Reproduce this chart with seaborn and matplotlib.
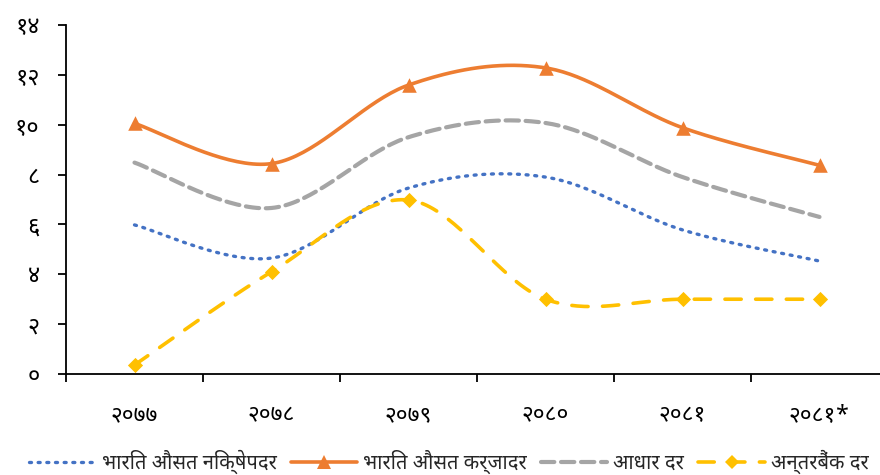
import numpy as np
import pandas as pd
import matplotlib
matplotlib.use("Agg")
import matplotlib.pyplot as plt
from matplotlib import font_manager
from matplotlib.ft2font import FT2Font
from matplotlib.lines import Line2D
import seaborn as sns

# Fiscal years (Bikram Sambat) and rates in percent
years = ["२०७७", "२०७८", "२०७९", "२०८०", "२०८१", "२०८१*"]
deposit_rate = [5.98, 4.65, 7.46, 7.90, 5.78, 4.53]     # भारित औसत निक्षेपदर
lending_rate = [10.05, 8.44, 11.59, 12.28, 9.88, 8.37]  # भारित औसत कर्जादर
base_rate = [8.48, 6.66, 9.50, 10.07, 7.90, 6.30]       # आधार दर
interbank_rate = [0.36, 4.10, 6.98, 3.00, 3.00, 3.00]   # अन्तरबैंक दर

series_names = ["भारित औसत निक्षेपदर", "भारित औसत कर्जादर", "आधार दर", "अन्तरबैंक दर"]
y_ticks = [0, 2, 4, 6, 8, 10, 12, 14]
y_tick_labels = ["०", "२", "४", "६", "८", "१०", "१२", "१४"]


def devanagari_family(preferred=("Noto Sans Devanagari", "Mukta", "Noto Sans Devanagari UI", "Yantramanav")):
    """Pick an installed family that covers Devanagari letters and digits."""
    found = []
    for entry in font_manager.fontManager.ttflist:
        try:
            cmap = FT2Font(entry.fname).get_charmap()
        except Exception:
            continue
        if 0x092D in cmap and 0x0967 in cmap:
            found.append(entry.name)
    for name in preferred:
        if name in found:
            return name
    return found[0] if found else None


sns.set_theme(style="white")
deva = devanagari_family()
plt.rcParams["font.family"] = ([deva] if deva else []) + ["DejaVu Sans"]
plt.rcParams["font.weight"] = "light"


def smooth_curve(values, steps=40):
    """Cubic Bezier smoothing through every point (Catmull-Rom style)."""
    pts = np.array(values, dtype=float)
    n = len(pts)
    xs = np.arange(n, dtype=float)
    out_x, out_y = [], []
    t = np.linspace(0, 1, steps)
    for i in range(n - 1):
        p0x, p0y = xs[max(i - 1, 0)], pts[max(i - 1, 0)]
        p1x, p1y = xs[i], pts[i]
        p2x, p2y = xs[i + 1], pts[i + 1]
        p3x, p3y = xs[min(i + 2, n - 1)], pts[min(i + 2, n - 1)]
        c1x, c1y = p1x + (p2x - p0x) / 6, p1y + (p2y - p0y) / 6
        c2x, c2y = p2x - (p3x - p1x) / 6, p2y - (p3y - p1y) / 6
        bx = ((1 - t) ** 3) * p1x + 3 * ((1 - t) ** 2) * t * c1x + 3 * (1 - t) * t ** 2 * c2x + t ** 3 * p2x
        by = ((1 - t) ** 3) * p1y + 3 * ((1 - t) ** 2) * t * c1y + 3 * (1 - t) * t ** 2 * c2y + t ** 3 * p2y
        if i > 0:
            bx, by = bx[1:], by[1:]
        out_x.extend(bx)
        out_y.extend(by)
    return np.array(out_x), np.array(out_y)


fig = plt.figure(figsize=(8.8, 4.75), dpi=100)
ax = fig.add_axes([66 / 880, 101 / 475, 822 / 880, 349 / 475])

styles = [
    dict(values=deposit_rate, color="#4472C4", lw=2.4, ls=(0, (0.6, 2.0)), marker=None, cap="round"),
    dict(values=lending_rate, color="#ED7D31", lw=2.6, ls="-", marker="^", cap="butt"),
    dict(values=base_rate, color="#A5A5A5", lw=3.0, ls=(0, (3.2, 1.6)), marker=None, cap="round"),
    dict(values=interbank_rate, color="#FFC000", lw=2.6, ls=(0, (4.5, 4.0)), marker="D", cap="round"),
]

handles = []
for name, st in zip(series_names, styles):
    sx, sy = smooth_curve(st["values"])
    curve = pd.DataFrame({"x": sx, "y": sy})
    sns.lineplot(data=curve, x="x", y="y", ax=ax, color=st["color"], linewidth=st["lw"],
                 sort=False, estimator=None)
    line = ax.lines[-1]
    line.set_linestyle(st["ls"])
    line.set_dash_capstyle(st["cap"])
    if st["marker"]:
        pts = pd.DataFrame({"x": np.arange(len(years)), "y": st["values"]})
        size = 110 if st["marker"] == "^" else 60
        sns.scatterplot(data=pts, x="x", y="y", ax=ax, marker=st["marker"], s=size,
                        color=st["color"], edgecolor=st["color"], linewidth=0, zorder=3)
    handles.append(Line2D([], [], color=st["color"], linewidth=st["lw"], linestyle=st["ls"],
                          dash_capstyle=st["cap"], marker=st["marker"],
                          markersize=10 if st["marker"] == "^" else 7, markeredgewidth=0))

ax.set_xlim(-0.5, 5.5)
ax.set_ylim(0, 14)
ax.set_xlabel("")
ax.set_ylabel("")

ax.set_yticks(y_ticks)
ax.set_yticklabels(y_tick_labels, fontsize=17)
ax.set_xticks(np.arange(len(years)))
ax.set_xticklabels(years, fontsize=16.5)
ax.set_xticks(np.arange(len(years) + 1) - 0.5, minor=True)

for side in ["top", "right"]:
    ax.spines[side].set_visible(False)
for side in ["left", "bottom"]:
    ax.spines[side].set_color("black")
    ax.spines[side].set_linewidth(1.3)

ax.tick_params(axis="y", which="major", direction="out", length=6, width=1.3, color="black",
               left=True, pad=13, labelcolor="black")
ax.tick_params(axis="x", which="major", length=0, pad=21, labelcolor="black")
ax.tick_params(axis="x", which="minor", direction="out", length=6, width=1.3, color="black", bottom=True)

fig.legend(handles, series_names, loc="center", bbox_to_anchor=(0.51, 13 / 475), ncol=4,
           frameon=False, fontsize=14.5, handlelength=3.3, handletextpad=0.3, columnspacing=0.7)

fig.savefig("out.png", dpi=100)
